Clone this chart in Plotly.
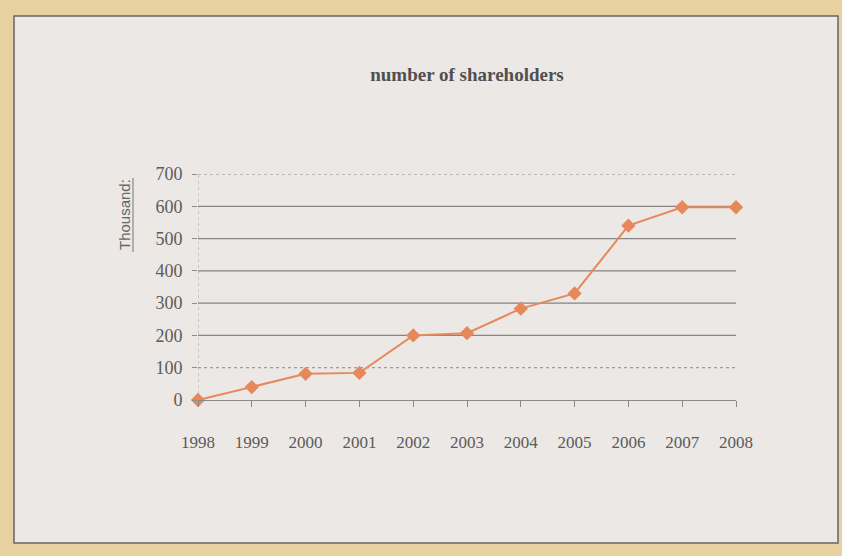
import plotly.graph_objects as go

years = [1998, 1999, 2000, 2001, 2002, 2003, 2004, 2005, 2006, 2007, 2008]
shareholders = [0, 40, 81, 84, 200, 207, 283, 330, 540, 597, 597]
y_ticks = [0, 100, 200, 300, 400, 500, 600, 700]
solid_grid = [200, 300, 400, 500, 600]
dotted_grid = [100, 700]

serif = "Liberation Serif, Times New Roman, serif"
text_gray = "#5b5b5b"

fig = go.Figure()
fig.add_trace(go.Scatter(
    x=years, y=shareholders, mode="lines+markers",
    line=dict(color="#e6885a", width=2),
    marker=dict(symbol="diamond", size=11, color="#e6885a"),
    cliponaxis=False, showlegend=False,
))

shapes = [
    dict(type="rect", xref="paper", yref="paper",
         x0=-184 / 538, x1=(838 - 198) / 538,
         y0=-(543 - 400) / 226, y1=(400 - 16) / 226,
         fillcolor="#ece8e5", line=dict(color="#666666", width=1.5),
         layer="below"),
    dict(type="line", xref="x", yref="y", x0=1998, x1=1998, y0=0, y1=700,
         line=dict(color="#a8a8a8", width=1, dash="dot"), layer="below"),
    dict(type="line", xref="paper", yref="paper", x0=-65 / 538, x1=-65 / 538,
         y0=(400 - 252) / 226, y1=(400 - 178) / 226,
         line=dict(color="#777777", width=1)),
]
for v in solid_grid:
    shapes.append(dict(type="line", xref="x", yref="y", x0=1998, x1=2008, y0=v, y1=v,
                       line=dict(color="#858585", width=1.2), layer="below"))
for v in dotted_grid:
    shapes.append(dict(type="line", xref="x", yref="y", x0=1998, x1=2008, y0=v, y1=v,
                       line=dict(color="#8a8a8a", width=1, dash="dot"), layer="below"))

fig.update_layout(
    width=842, height=556,
    paper_bgcolor="#e8d1a0",
    plot_bgcolor="rgba(0,0,0,0)",
    margin=dict(l=198, r=106, t=174, b=156),
    title=dict(text="<b>number of shareholders</b>", x=0.5, xref="paper",
               y=1 - 74 / 556, yanchor="middle",
               font=dict(family=serif, size=19, color="#505050")),
    shapes=shapes,
    annotations=[
        dict(text="Thousand:", xref="paper", yref="paper",
             x=-74 / 538, y=(400 - 215) / 226, textangle=-90, showarrow=False,
             font=dict(family="Liberation Sans, Arial, sans-serif", size=15, color="#666666"),
             xanchor="center", yanchor="middle"),
    ],
)

fig.update_xaxes(
    range=[1998, 2008], tickvals=years, ticktext=[str(y) for y in years],
    showgrid=False, zeroline=False,
    showline=True, linecolor="#8a8a8a", linewidth=1,
    ticks="outside", ticklen=6, tickcolor="#8a8a8a",
    ticklabelstandoff=21,
    tickfont=dict(family=serif, size=17, color=text_gray),
)
fig.update_yaxes(
    range=[0, 700], tickvals=y_ticks,
    showgrid=False, zeroline=False, showline=False,
    ticks="outside", ticklen=5, tickcolor="#8c8c8c",
    ticklabelstandoff=6,
    tickfont=dict(family=serif, size=18, color=text_gray),
)

fig.write_html("out.html", config={"displayModeBar": False},
               post_script="document.body.style.margin='0';")
